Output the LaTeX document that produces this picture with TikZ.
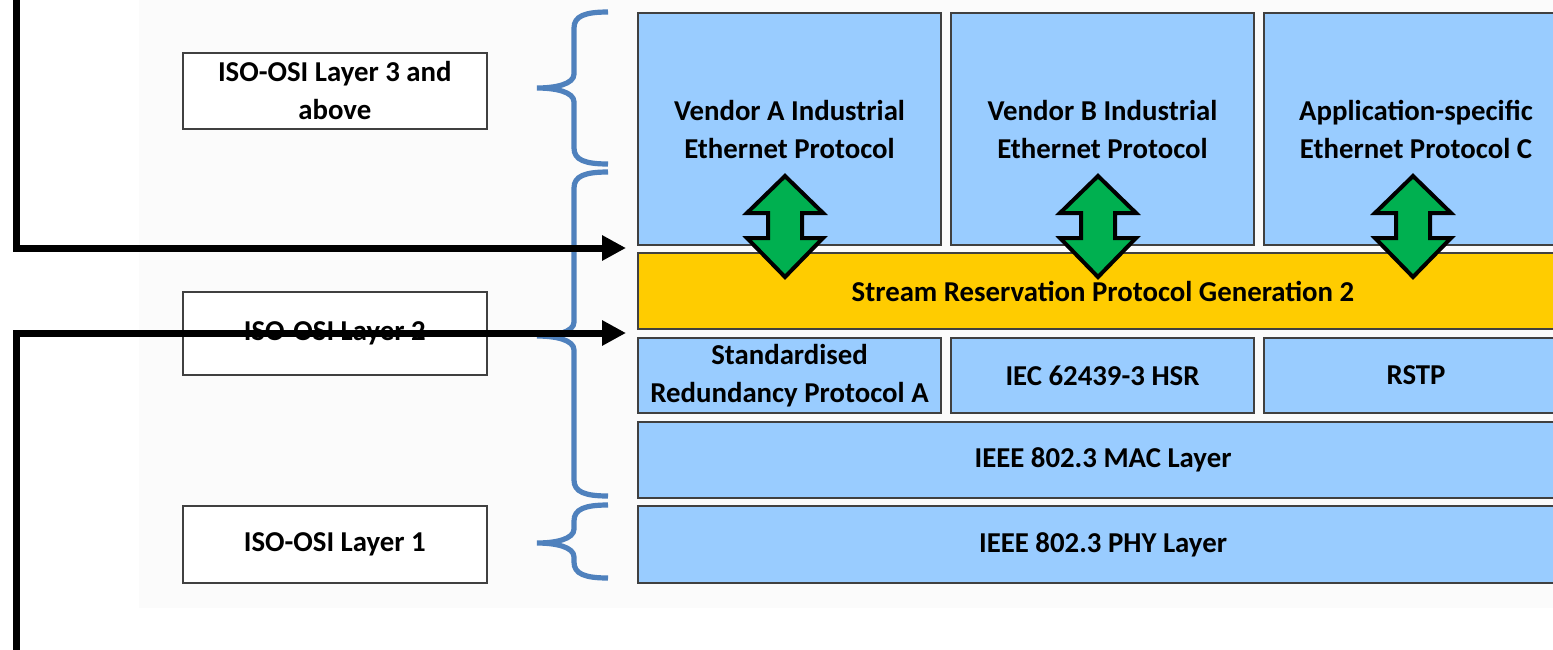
\documentclass[tikz,border=0pt]{standalone}
\usepackage{fontspec}
\setmainfont{Carlito}
\usetikzlibrary{arrows.meta}

\definecolor{boxblue}{HTML}{99CCFF}
\definecolor{srpyellow}{HTML}{FFCC00}
\definecolor{arrowgreen}{HTML}{00B050}
\definecolor{bracecol}{HTML}{4F81BD}
\definecolor{edgegray}{HTML}{404040}

\begin{document}
\begin{tikzpicture}[x=0.5pt,y=-0.5pt,
	layer/.style={draw=edgegray,line width=0.8pt,fill=white,inner sep=0pt,anchor=north west,
		minimum width=152pt,align=center,font=\bfseries\fontsize{14.4}{19}\selectfont},
	blk/.style={layer,line width=1pt,fill=boxblue,minimum width=151.5pt,minimum height=38pt},
	wide/.style={minimum width=465pt},
	brace/.style={draw=bracecol,line width=2.6pt},
	updown/.style={draw=black,fill=arrowgreen,line width=2pt,miter limit=10},
	feed/.style={line width=3.5pt,-{Triangle[length=12pt,width=12pt]}}]
	\useasboundingbox (0,0) rectangle (1553,649);
	\fill[gray!3] (139,0) rectangle (1553,608);

	% OSI layers on the left
	\node[layer,minimum height=38pt] (osi3) at (182,52) {ISO-OSI Layer 3 and\\above};
	\node[layer,minimum height=41.5pt] (osi2) at (182,291) {ISO-OSI Layer 2};
	\node[layer,minimum height=38.5pt] (osi1) at (182,505) {ISO-OSI Layer 1};

	\foreach \ya/\ym/\yb in {12/88/164, 172/336/496, 505/543/578}
		\draw[brace] (608,\ya) .. controls (585,\ya) and (574,\ya+4) .. (574,\ya+16)
			-- (574,\ym-14) .. controls (574,\ym-4) and (556,\ym) .. (537,\ym)
			.. controls (556,\ym) and (574,\ym+4) .. (574,\ym+14)
			-- (574,\yb-16) .. controls (574,\yb-4) and (585,\yb) .. (608,\yb);

	% protocol stack
	\node[blk,minimum height=116pt] (venA) at (637,12) {Vendor A Industrial\\Ethernet Protocol};
	\node[blk,minimum height=116pt] (venB) at (950,12) {Vendor B Industrial\\Ethernet Protocol};
	\node[blk,minimum height=116pt,minimum width=152pt] (appC) at (1263,12) {Application-specific\\Ethernet Protocol C};
	\node[blk,wide,fill=srpyellow] (srp) at (637,252) {Stream Reservation Protocol Generation 2};
	\node[blk,minimum height=37.5pt] (redA) at (637,337) {Standardised\\Redundancy Protocol A};
	\node[blk,minimum height=37.5pt] (hsr) at (950,337) {IEC 62439-3 HSR};
	\node[blk,minimum height=37.5pt,minimum width=152pt] (rstp) at (1263,337) {RSTP};
	\node[blk,wide] (mac) at (637,421) {IEEE 802.3 MAC Layer};
	\node[blk,wide,minimum height=38.5pt] (phy) at (637,505) {IEEE 802.3 PHY Layer};

	\foreach \c in {785,1098,1413}
		\draw[updown] (\c,176) -- ++(38,37) -- ++(-21,0) -- ++(0,25) -- ++(21,0)
			-- ++(-38,39) -- ++(-38,-39) -- ++(21,0) -- ++(0,-25) -- ++(-21,0) -- cycle;

	% entry arrows
	\coordinate (top) at (16,-10);
	\coordinate (bot) at (16,660);
	\coordinate (in1) at (626,248);
	\coordinate (in2) at (626,333);
	\draw[feed] (top) |- (in1);
	\draw[feed] (bot) |- (in2);
\end{tikzpicture}
\end{document}
